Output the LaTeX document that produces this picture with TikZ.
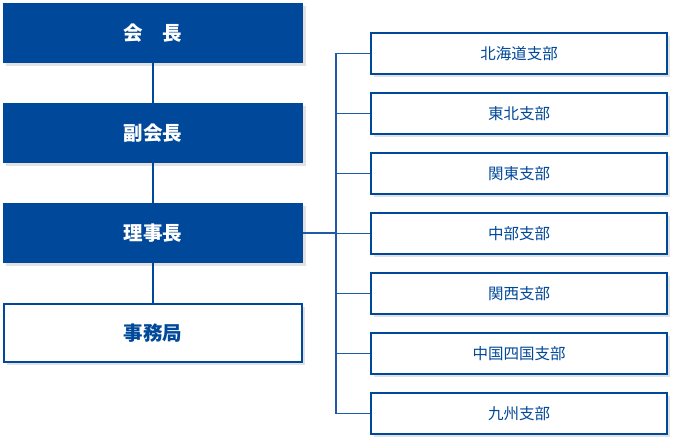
\documentclass[tikz,border=0pt]{standalone}
\usepackage{fontspec}
\newfontfamily\jpfont{Noto Sans CJK JP}
\usepackage{xcolor}
\usepackage{tikz}
\usetikzlibrary{positioning,shadows}
\definecolor{orgblue}{RGB}{0,72,153}
\definecolor{branchblue}{RGB}{30,90,166}
\definecolor{shadowgray}{RGB}{226,226,226}

\begin{document}
\begin{tikzpicture}[x=1pt, y=-1pt,
  boxshadow/.style={drop shadow={shadow xshift=3pt, shadow yshift=-3pt, fill=shadowgray, opacity=1}},
  officer/.style={rectangle, fill=orgblue, text=white, outer sep=0pt, minimum width=300pt, minimum height=60pt, font=\jpfont\bfseries\fontsize{19.5}{22}\selectfont, boxshadow},
  office/.style={rectangle, draw=orgblue, line width=2pt, fill=white, text=orgblue, minimum width=298pt, minimum height=58pt, font=\jpfont\bfseries\fontsize{19.5}{22}\selectfont, boxshadow},
  branchbox/.style={rectangle, draw=orgblue, line width=2pt, fill=white, text=orgblue, minimum width=296pt, minimum height=41pt, font=\jpfont\fontsize{15.5}{18}\selectfont, boxshadow},
  link/.style={draw=orgblue, line width=2pt},
  branch/.style={draw=branchblue, line width=1.6pt}]
\useasboundingbox (0,0) rectangle (673,440);

% officers
\node (chair) [officer] at (153,33) {会　長};
\node (vice) [below=40pt of chair, officer] {副会長};
\node (director) [below=40pt of vice, officer] {理事長};
\node (secretariat) [below=40pt of director, office] {事務局};

% branches
\node (hokkaido) [branchbox] at (519,53.5) {北海道支部};
\node (tohoku) [below=17pt of hokkaido, branchbox] {東北支部};
\node (kanto) [below=17pt of tohoku, branchbox] {関東支部};
\node (chubu) [below=17pt of kanto, branchbox] {中部支部};
\node (kansai) [below=17pt of chubu, branchbox] {関西支部};
\node (chushikoku) [below=17pt of kansai, branchbox] {中国四国支部};
\node (kyushu) [below=17pt of chushikoku, branchbox] {九州支部};

\coordinate (trunk) at (336,0);

\draw[link] (chair) -- (vice);
\draw[link] (vice) -- (director);
\draw[link] (director) -- (secretariat);

\draw[branch] (director.east) -- (director.east -| trunk);
\draw[branch] (hokkaido.west) -- (hokkaido.west -| trunk) -- (kyushu.west -| trunk) -- (kyushu.west);
\foreach \b in {tohoku,kanto,chubu,kansai,chushikoku}
  \draw[branch] (\b.west) -- (\b.west -| trunk);
\end{tikzpicture}
\end{document}
